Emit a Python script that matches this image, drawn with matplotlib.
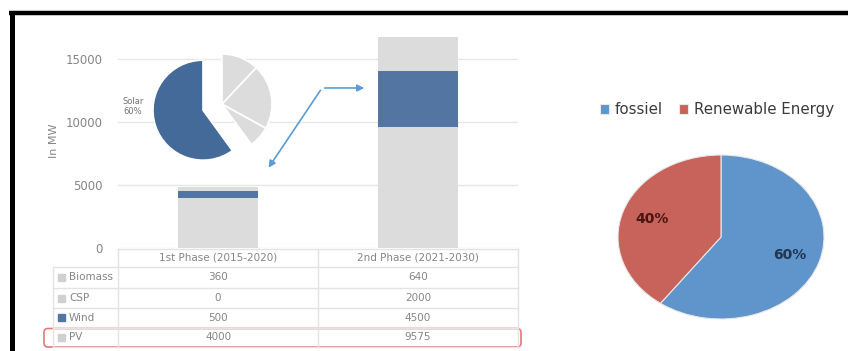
import matplotlib
matplotlib.use('Agg')
import numpy as np
import matplotlib.pyplot as plt
from matplotlib.patches import FancyBboxPatch, Rectangle

# bar chart / table data
phases = ["1st Phase (2015-2020)", "2nd Phase (2021-2030)"]
sources = ["Biomass", "CSP", "Wind", "PV"]
biomass = [360, 640]
csp = [0, 2000]
wind = [500, 4500]
pv = [4000, 9575]

# inset pie (solar share first, then the three grey slices counterclockwise)
inset_shares = [60, 7, 21, 12]

# right pie
mix_labels = ["fossiel", "Renewable Energy"]
mix_shares = [60, 40]

W, H = 848, 351
fig = plt.figure(figsize=(W / 100, H / 100), dpi=100)

def box(x0, y0, x1, y1):
    # pixel box (top-left origin) -> figure coords
    return [x0 / W, 1 - y1 / H, (x1 - x0) / W, (y1 - y0) / H]

grey = '#DCDCDC'
wind_col = '#5275A1'
txt = '#858585'

# ---- stacked bars ----
ax = fig.add_axes(box(118, 33.8, 518, 248))
x = np.arange(len(phases))
bottom = np.zeros(len(phases))
for vals, col in [(pv, grey), (wind, wind_col), (csp, grey), (biomass, grey)]:
    ax.bar(x, vals, 0.4, bottom=bottom, color=col, zorder=2)
    bottom += np.array(vals)
ax.set_xlim(-0.5, 1.5)
ax.set_ylim(0, 17000)
ax.set_yticks([0, 5000, 10000, 15000])
ax.yaxis.grid(True, color='#E6E6E6', lw=1, zorder=0)
ax.tick_params(axis='y', length=0, pad=11, labelsize=8.5, labelcolor=txt)
ax.set_xticks([])
for s in ax.spines.values():
    s.set_visible(False)
ax.set_ylabel("In MW", color=txt, fontsize=8, labelpad=5)

# arrows from the inset pie to the bars
arr = dict(arrowstyle='-|>', color='#5B9BD5', lw=1.2, mutation_scale=10)
ax.annotate('', xy=(0.245, 6190), xytext=(0.52, 12700), arrowprops=arr)
ax.annotate('', xy=(0.745, 12700), xytext=(0.52, 12700), arrowprops=arr)

# ---- inset pie ----
pax = fig.add_axes(box(162, 44, 282, 164))
pax.pie(inset_shares, startangle=90, counterclock=True,
        colors=['#436A98'] + [grey] * 3, explode=[0.4, 0, 0, 0],
        wedgeprops=dict(edgecolor='white', linewidth=1.2))
pax.set_xlim(-1.2, 1.2)
pax.set_ylim(-1.2, 1.2)
pax.text(-1.78, -0.05, "Solar\n60%", fontsize=6, color='#707070',
         ha='center', va='center', clip_on=False)

# ---- right pie (stretched) ----
rax = fig.add_axes(box(618, 155, 824, 319))
wedges, _, autot = rax.pie(mix_shares, startangle=90, counterclock=False,
                           colors=['#5F95CA', '#C8635C'], autopct='%d%%',
                           pctdistance=0.7,
                           wedgeprops=dict(edgecolor='#E8E8E8', linewidth=0.8),
                           textprops=dict(fontsize=10, fontweight='bold'))
autot[0].set_color('#1F3553')
autot[1].set_color('#4A1410')
rax.set_aspect('auto')
rax.set_xlim(-1, 1)
rax.set_ylim(-1, 1)
fig.legend(wedges, mix_labels, loc='center left',
           bbox_to_anchor=(586 / W, 1 - 110 / H), ncol=2, frameon=False,
           handlelength=0.6, handleheight=0.6, handletextpad=0.4,
           columnspacing=1.1, prop=dict(size=10.8), labelcolor='#3A3A3A')

# ---- overlay: table + frame ----
ov = fig.add_axes([0, 0, 1, 1])
ov.set_xlim(0, W)
ov.set_ylim(H, 0)
ov.axis('off')

lc = '#E3E3E3'
rows_y = [267, 288, 308, 327.5, 347]
col_x = [53, 118, 318, 518]
ov.plot([118, 518], [249, 249], color=lc, lw=1)
for yy in rows_y:
    ov.plot([53, 518], [yy, yy], color=lc, lw=1)
for xx in col_x:
    y0 = 267 if xx == 53 else 249
    ov.plot([xx, xx], [y0, 347], color=lc, lw=1)

centers = [218, 418]
for c, name in zip(centers, phases):
    ov.text(c, 258, name, ha='center', va='center', fontsize=7.5, color=txt)

table_vals = [biomass, csp, wind, pv]
for i, (name, vals) in enumerate(zip(sources, table_vals)):
    yc = (rows_y[i] + rows_y[i + 1]) / 2
    sq = wind_col if name == "Wind" else '#D0D0D0'
    ov.add_patch(Rectangle((58, yc - 3.5), 7, 7, color=sq))
    ov.text(69, yc, name, ha='left', va='center', fontsize=7.5, color=txt)
    for c, v in zip(centers, vals):
        ov.text(c, yc, str(v), ha='center', va='center', fontsize=7.5, color=txt)

ov.add_patch(FancyBboxPatch((44, 328.5), 477, 18.5,
                            boxstyle='round,pad=0,rounding_size=4',
                            fill=False, edgecolor='#E07A7A', lw=1.2))

# black frame (top and left)
ov.plot([9, W], [13, 13], color='black', lw=3.2, solid_capstyle='butt')
ov.plot([11.5, 11.5], [11.5, H], color='black', lw=3.6, solid_capstyle='butt')

fig.savefig('out.png', dpi=100)
